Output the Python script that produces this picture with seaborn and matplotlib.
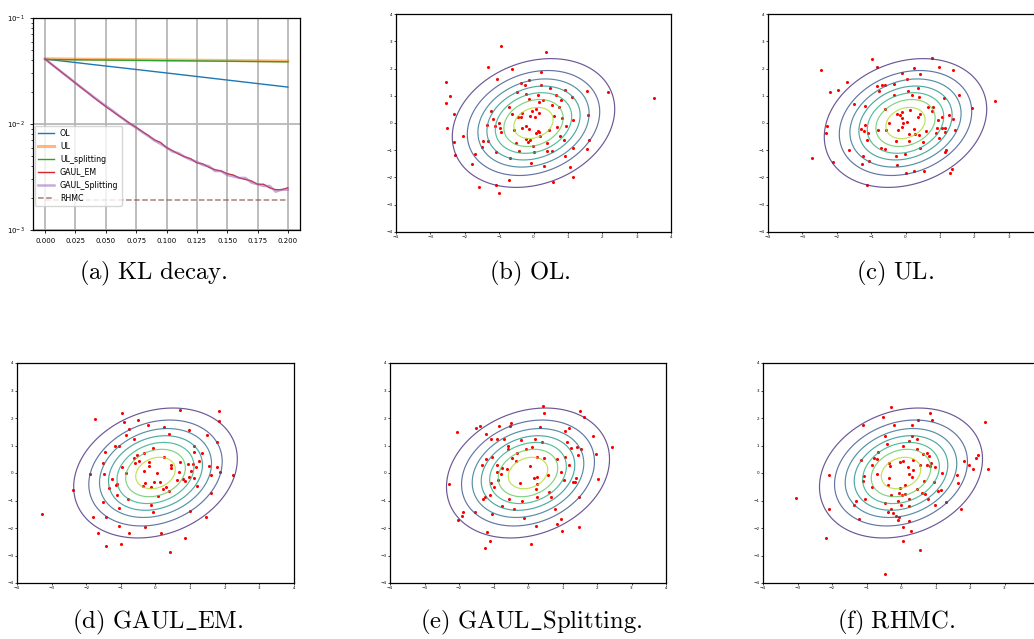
import numpy as np
import pandas as pd
import matplotlib
matplotlib.use("Agg")
import matplotlib.pyplot as plt
import seaborn as sns

plt.rcParams["mathtext.fontset"] = "cm"

# ---------------- KL decay data ----------------
T_COARSE = np.linspace(0.0, 0.2, 11)
T_FINE = np.linspace(0.0, 0.2, 41)

OL_KL = [0.0410, 0.0386, 0.0363, 0.0342, 0.0322, 0.0303, 0.0285, 0.0268, 0.0252, 0.0237, 0.0223]
UL_KL = [0.0412, 0.0410, 0.0408, 0.0406, 0.0404, 0.0402, 0.0400, 0.0398, 0.0396, 0.0394, 0.0392]
UL_SPLIT_KL = [0.0406, 0.0404, 0.0402, 0.0400, 0.0398, 0.0396, 0.0394, 0.0392, 0.0390, 0.0388, 0.0386]
GAUL_EM_KL = [0.0410, 0.0368, 0.0332, 0.0299, 0.0270, 0.0243, 0.0219, 0.0198, 0.0178, 0.0161,
              0.0146, 0.0133, 0.0121, 0.0111, 0.0101, 0.0093, 0.0085, 0.0078, 0.0071, 0.0067,
              0.0060, 0.0056, 0.0052, 0.0049, 0.0047, 0.0043, 0.0042, 0.0039, 0.0037, 0.0036,
              0.0034, 0.0033, 0.0031, 0.0030, 0.0029, 0.0027, 0.0027, 0.0025, 0.0024, 0.0024, 0.0025]
GAUL_SPLIT_KL = [0.0410, 0.0369, 0.0333, 0.0300, 0.0271, 0.0244, 0.0220, 0.0199, 0.0180, 0.0163,
                 0.0148, 0.0135, 0.0122, 0.0110, 0.0100, 0.0092, 0.0084, 0.0077, 0.0070, 0.0065,
                 0.0060, 0.0055, 0.0053, 0.0049, 0.0046, 0.0044, 0.0041, 0.0040, 0.0036, 0.0036,
                 0.0033, 0.0032, 0.0031, 0.0031, 0.0028, 0.0027, 0.0026, 0.0026, 0.0023, 0.0024, 0.0024]
RHMC_KL = 0.0019

# ---------------- target Gaussian ----------------
TARGET_MEAN = [0.0, 0.0]
TARGET_COV = [[1.35, 0.29], [0.29, 1.35]]
LEVEL_STEP_FRAC = 0.1266   # contour spacing as a fraction of the peak density
N_LEVELS = 9

# ---------------- samples ----------------
OL_X = [-0.94, 0.35, -1.33, -0.62, 0.23, -2.54, -1.05, -0.12, -0.36, -0.24, 0.23, 0.47, 1.56, 2.16, 0.92, 0.66,
        1.11, 0.14, -0.21, -0.47, -2.42, -2.54, -0.13, 0.29, 0.81, 0.17, 0.55, 0.73, -0.70, 0.06, -0.05, -1.23,
        0.15, -0.63, -2.30, -0.33, -0.46, -0.36, -0.10, 0.03, 0.61, -1.17, 0.82, 1.14, 1.58, -0.99, -1.35, -1.11,
        -0.97, -0.22, -0.33, -0.14, -2.52, 0.67, 0.94, -0.94, -0.57, 0.13, 0.46, 0.16, 0.08, -2.04, 0.20, 0.77,
        -0.21, -0.10, 0.89, -0.50, -0.15, 0.40, 1.60, -2.30, -1.47, -1.31, -1.50, -0.02, 1.16, 1.57, -0.43, 0.01,
        0.39, 0.55, -1.10, -1.69, -2.27, 0.92, -0.69, -0.06, -1.78, 0.31, 1.05, 1.15, -0.70, 0.57, -1.09, -1.59,
        -1.00, 3.50]
OL_Y = [2.82, 2.59, 2.06, 2.00, 1.88, 1.50, 1.62, 1.56, 1.46, 1.38, 1.41, 1.29, 1.17, 1.15, 1.21, 1.04,
        0.96, 1.01, 1.06, 1.13, 0.99, 0.74, 0.87, 0.84, 0.84, 0.76, 0.65, 0.60, 0.59, 0.52, 0.45, 0.44,
        0.35, 0.34, 0.34, 0.37, 0.23, 0.23, 0.26, 0.21, 0.26, 0.16, 0.17, 0.11, 0.29, 0.00, -0.09, -0.11,
        -0.18, -0.11, -0.18, -0.22, -0.17, -0.15, -0.11, -0.32, -0.26, -0.28, -0.27, -0.33, -0.38, -0.46, -0.48, -0.46,
        -0.57, -0.63, -0.61, -0.72, -0.70, -0.72, -0.62, -0.71, -0.67, -0.67, -0.87, -0.83, -0.90, -0.95, -1.01, -1.06,
        -1.01, -1.01, -1.06, -1.12, -1.16, -1.21, -1.28, -1.46, -1.52, -1.56, -1.61, -1.99, -2.10, -2.17, -2.28, -2.35,
        -2.57, 0.93]

UL_X = [-0.97, 0.78, -2.47, -0.83, 0.25, 0.97, 1.38, -0.11, 0.41, 0.03, -1.71, -0.82, -0.67, -0.59, -0.34, -1.96,
        -2.20, -0.76, 0.06, 0.36, -0.34, 0.18, 0.38, 1.57, 1.11, -1.51, -1.18, -0.59, 0.64, 0.81, 1.93, 2.61,
        -0.09, 0.13, 0.78, -0.24, -0.15, 0.42, -0.11, 0.35, 1.06, 1.27, 0.94, 1.37, -0.48, -0.08, 0.05, -2.28,
        -1.19, -0.10, 1.05, 1.14, -1.29, -1.21, -0.80, -0.56, -0.22, 0.25, 0.59, 0.92, 1.14, 1.44, -2.31, -1.08,
        0.11, 0.27, 0.38, 0.89, -1.12, 0.97, 0.09, -0.28, 0.52, -0.72, -0.59, 0.43, -1.64, 1.19, 1.14, -0.02,
        -0.29, -1.23, -1.06, -2.12, -1.27, -0.24, -2.73, 1.35, 0.25, 0.55, 0.02, 1.28, -1.12]
UL_Y = [2.34, 2.40, 1.96, 2.06, 2.02, 2.07, 1.93, 1.85, 1.79, 1.63, 1.49, 1.34, 1.38, 1.39, 1.44, 1.21,
        1.13, 1.18, 1.17, 1.28, 1.02, 1.04, 0.96, 1.02, 0.93, 0.71, 0.61, 0.51, 0.60, 0.60, 0.55, 0.82,
        0.41, 0.46, 0.43, 0.34, 0.30, 0.32, 0.20, 0.23, 0.23, 0.29, 0.10, 0.15, -0.01, -0.01, 0.05, -0.11,
        -0.07, -0.13, -0.17, -0.17, -0.23, -0.28, -0.24, -0.26, -0.26, -0.22, -0.28, -0.20, -0.32, -0.26, -0.38, -0.38,
        -0.40, -0.41, -0.43, -0.37, -0.61, -0.56, -0.66, -0.67, -0.71, -0.90, -0.95, -0.90, -0.99, -0.98, -1.05, -1.12,
        -1.22, -1.22, -1.39, -1.44, -1.50, -1.54, -1.27, -1.67, -1.77, -1.76, -1.83, -1.83, -2.29]

GAUL_EM_X = [0.71, 1.83, -0.98, -1.74, 1.83, -0.51, -0.90, -0.22, 0.25, -0.77, 0.98, -0.86, 0.39, 1.48, -0.63, 1.79,
             -1.18, -1.05, 1.12, -1.47, -0.06, -0.34, 1.11, -0.63, -0.54, 0.24, 1.34, 1.25, 0.71, -0.18, -1.53, -0.58,
             -0.49, 1.07, 0.44, 0.94, -0.19, -0.97, 0.46, 1.16, 1.55, 1.77, -0.34, -1.90, -0.86, 0.03, 0.69, 1.85,
             -1.49, 0.96, 1.02, 1.61, 1.12, 2.23, -1.25, -1.12, -1.13, -0.29, -0.05, 0.12, 0.63, 0.79, 0.85, -1.34,
             -0.35, -0.14, 0.29, 0.23, 1.20, -2.39, 0.38, 1.59, -1.12, 0.08, -0.80, -1.52, -0.14, -1.05, 1.01, -0.06,
             -3.29, -1.81, -1.43, 1.45, -1.06, -0.29, -1.67, -0.76, 0.16, 0.84, -1.00, -1.43, 0.42]
GAUL_EM_Y = [2.30, 2.24, 2.20, 1.97, 1.90, 1.91, 1.84, 1.76, 1.69, 1.59, 1.57, 1.40, 1.42, 1.40, 1.22, 1.13,
             1.00, 0.98, 0.98, 0.77, 0.92, 0.72, 0.77, 0.55, 0.66, 0.60, 0.73, 0.44, 0.41, 0.40, 0.38, 0.38,
             0.45, 0.33, 0.29, 0.33, 0.26, 0.21, 0.19, 0.23, 0.26, 0.21, 0.09, -0.04, 0.00, 0.01, 0.04, 0.04,
             -0.05, -0.13, 0.09, -0.06, -0.18, -0.09, -0.21, -0.39, -0.45, -0.38, -0.32, -0.34, -0.24, -0.22, -0.28, -0.53,
             -0.47, -0.51, -0.50, -0.57, -0.46, -0.61, -0.67, -0.72, -0.80, -0.85, -0.96, -1.07, -1.17, -1.28, -1.37, -1.42,
             -1.48, -1.59, -1.59, -1.60, -1.92, -1.98, -2.18, -2.19, -2.19, -2.35, -2.57, -2.66, -2.89]

GAUL_SPLIT_X = [0.44, 1.50, 0.46, 1.63, -0.48, -1.40, -1.52, -0.85, -0.52, 0.36, 1.18, -2.07, -1.22, 1.08, 1.87, -1.06,
                -0.71, -0.91, -0.20, 0.20, 0.41, 1.14, -0.59, 0.13, 1.43, 2.44, -0.59, -0.07, 1.24, 1.53, -0.32, 1.97,
                -1.22, -1.04, -0.46, 0.25, 0.46, 1.06, 1.45, 0.83, -0.35, -1.33, -0.91, 1.18, 0.05, -0.75, -0.62, -0.90,
                -0.77, 0.96, -2.28, 0.17, 0.25, 0.59, 2.02, 1.40, 1.35, 1.29, -0.88, 1.03, -1.08, -0.24, 0.27, -1.00,
                0.23, 1.49, -1.26, -1.30, -1.09, 0.61, 0.66, 0.27, -0.55, -0.16, -0.75, -0.42, 0.78, -1.53, -1.89, -1.03,
                -0.13, 0.95, -2.04, -1.92, 0.85, 0.24, 1.47, 0.99, -1.19, -1.09, 0.08, -1.24]
GAUL_SPLIT_Y = [2.44, 2.27, 2.19, 2.04, 1.82, 1.70, 1.63, 1.71, 1.70, 1.67, 1.65, 1.48, 1.42, 1.53, 1.34, 1.23,
                1.23, 1.22, 1.19, 1.22, 1.12, 1.12, 0.98, 0.96, 0.94, 0.95, 0.89, 0.86, 0.90, 0.86, 0.74, 0.68,
                0.51, 0.57, 0.55, 0.60, 0.55, 0.60, 0.64, 0.50, 0.43, 0.30, 0.30, 0.30, 0.27, 0.17, 0.15, 0.04,
                -0.02, 0.05, -0.40, -0.17, -0.15, -0.07, -0.23, -0.19, -0.32, -0.34, -0.27, -0.26, -0.35, -0.36, -0.41, -0.50,
                -0.57, -0.86, -0.88, -0.94, -0.80, -0.69, -0.86, -0.89, -0.95, -1.00, -1.19, -1.30, -1.30, -1.42, -1.43, -1.50,
                -1.65, -1.67, -1.71, -1.57, -1.84, -1.92, -1.96, -2.12, -2.14, -2.47, -2.58, -2.71]

RHMC_X = [-0.29, 0.84, -0.52, 0.49, 0.89, 2.44, -1.10, -0.19, 0.31, -0.47, 0.32, 0.45, 0.23, -0.41, 0.07, 0.45,
          -0.67, 0.76, 0.65, 0.80, -1.16, -0.78, -0.71, 1.83, 2.23, 2.17, -0.36, -0.02, 0.07, 0.36, -0.84, -0.33,
          0.55, 0.74, 0.83, 0.88, 0.99, 0.21, 0.35, 1.98, 2.09, 2.51, -0.69, 0.22, 1.19, -2.10, -1.06, -0.35,
          0.31, 1.61, -1.09, 0.68, 0.95, 1.66, -0.38, 0.13, 0.45, -0.84, -0.02, 1.07, 1.17, -0.06, 0.61, 0.70,
          -0.28, 0.03, 0.11, -0.09, -1.03, 0.79, 0.22, 0.01, 0.23, 0.98, -1.31, -1.35, -0.45, 1.30, -0.28, -0.38,
          -0.24, -0.15, -0.05, -0.08, 0.22, -2.09, 1.75, -1.23, -3.05, 0.06, 0.28, -2.17, 0.05, 0.56, -0.45]
RHMC_Y = [2.40, 2.20, 2.02, 1.93, 1.91, 1.87, 1.74, 1.73, 1.76, 1.34, 1.36, 1.23, 1.16, 1.05, 0.98, 0.86,
          0.78, 0.74, 0.69, 0.62, 0.47, 0.54, 0.50, 0.44, 0.64, 0.55, 0.38, 0.41, 0.45, 0.46, 0.29, 0.24,
          0.30, 0.30, 0.26, 0.35, 0.22, 0.21, 0.12, 0.30, 0.13, 0.16, -0.04, -0.02, -0.01, -0.09, -0.12, -0.17,
          -0.15, -0.09, -0.30, -0.28, -0.33, -0.38, -0.45, -0.44, -0.57, -0.51, -0.53, -0.64, -0.60, -0.72, -0.74, -0.77,
          -0.80, -0.80, -0.77, -1.01, -0.95, -0.94, -0.95, -1.16, -1.19, -1.16, -1.00, -1.18, -1.08, -1.06, -1.31, -1.43,
          -1.45, -1.57, -1.59, -1.70, -1.74, -1.31, -1.30, -1.68, -0.91, -1.96, -2.12, -2.35, -2.49, -2.81, -3.68]

SCATTER_PANELS = [
    ("OL", OL_X, OL_Y),
    ("UL", UL_X, UL_Y),
    ("GAUL_EM", GAUL_EM_X, GAUL_EM_Y),
    ("GAUL_Splitting", GAUL_SPLIT_X, GAUL_SPLIT_Y),
    ("RHMC", RHMC_X, RHMC_Y),
]
SCATTER_TICKS = [-4, -3, -2, -1, 0, 1, 2, 3, 4]
CAPTIONS = [r"$\mathrm{(a)\ KL\ decay.}$", r"$\mathrm{(b)\ OL.}$", r"$\mathrm{(c)\ UL.}$",
            r"$\mathrm{(d)\ GAUL\_EM.}$", r"$\mathrm{(e)\ GAUL\_Splitting.}$", r"$\mathrm{(f)\ RHMC.}$"]

# ---------------- figure ----------------
W, H = 1034, 639
fig = plt.figure(figsize=(W / 100, H / 100), dpi=100)


def px_axes(left, top, right, bottom):
    return fig.add_axes([left / W, 1 - bottom / H, (right - left) / W, (bottom - top) / H])


# KL panel
ax = px_axes(33, 18, 300, 230)
sns.lineplot(x=T_COARSE, y=OL_KL, ax=ax, color="tab:blue", lw=1.0, label="OL")
sns.lineplot(x=T_COARSE, y=UL_KL, ax=ax, color="tab:orange", lw=2.2, alpha=0.55, label="UL")
sns.lineplot(x=T_COARSE, y=UL_SPLIT_KL, ax=ax, color="tab:green", lw=1.0, label="UL_splitting")
sns.lineplot(x=T_FINE, y=GAUL_EM_KL, ax=ax, color="tab:red", lw=1.0, label="GAUL_EM")
sns.lineplot(x=T_FINE, y=GAUL_SPLIT_KL, ax=ax, color="tab:purple", lw=1.8, alpha=0.55, label="GAUL_Splitting")
sns.lineplot(x=[T_FINE[0], T_FINE[-1]], y=[RHMC_KL, RHMC_KL], ax=ax, color="tab:brown",
             lw=1.1, alpha=0.75, linestyle="--", label="RHMC")
ax.set_yscale("log")
ax.set_ylim(1e-3, 1e-1)
ax.set_xlim(-0.01, 0.21)
ax.set_xticks(np.linspace(0, 0.2, 9))
ax.set_xticklabels([f"{v:.3f}" for v in np.linspace(0, 0.2, 9)])
ax.grid(True, which="major", color="#b8b8b8", lw=1.3)
ax.tick_params(labelsize=5, length=2.5, width=0.6)
ax.tick_params(which="minor", length=1.5, width=0.5)
ax.set_xlabel("")
ax.set_ylabel("")
for s in ax.spines.values():
    s.set_linewidth(0.9)
ax.legend(loc="upper left", bbox_to_anchor=(0.0, 0.5), fontsize=5.7, borderaxespad=0.2,
          handlelength=2.0, labelspacing=0.5, framealpha=0.8)

# density grid for contours
gx = np.linspace(-4, 4, 300)
GX, GY = np.meshgrid(gx, gx)
cov = np.array(TARGET_COV)
inv = np.linalg.inv(cov)
dx = GX - TARGET_MEAN[0]
dy = GY - TARGET_MEAN[1]
q = inv[0, 0] * dx ** 2 + 2 * inv[0, 1] * dx * dy + inv[1, 1] * dy ** 2
Z = np.exp(-0.5 * q) / (2 * np.pi * np.sqrt(np.linalg.det(cov)))
fmax = 1 / (2 * np.pi * np.sqrt(np.linalg.det(cov)))
levels = fmax * LEVEL_STEP_FRAC * np.arange(N_LEVELS)

boxes = [
    (396, 14, 671, 232),
    (768, 14, 1043, 232),
    (17, 363, 294, 583),
    (390, 363, 666, 583),
    (763, 363, 1039, 583),
]
for (name, xs, ys), box in zip(SCATTER_PANELS, boxes):
    a = px_axes(*box)
    a.contour(GX, GY, Z, levels=levels, cmap="viridis", linewidths=0.85, alpha=0.8)
    df = pd.DataFrame({"x": xs, "y": ys})
    sns.scatterplot(data=df, x="x", y="y", ax=a, color="red", s=5, linewidth=0)
    a.set_xlim(-4, 4)
    a.set_ylim(-4, 4)
    a.set_xticks(SCATTER_TICKS)
    a.set_yticks(SCATTER_TICKS)
    xlabels = [f"{v}".replace("-", "\u2212") for v in SCATTER_TICKS]
    if box[2] > W:
        # the right-most tick sits beyond the figure edge, as in the reference
        xlabels[-1] = ""
    a.set_xticklabels(xlabels)
    a.tick_params(labelsize=3, length=1.5, width=0.5, pad=1)
    a.set_xlabel("")
    a.set_ylabel("")
    for s in a.spines.values():
        s.set_linewidth(0.9)

# captions
cap_pos = [(153, 273), (530, 273), (895, 273), (158, 622), (531, 622), (896, 622)]
for txt, (cx, cy) in zip(CAPTIONS, cap_pos):
    fig.text(cx / W, 1 - cy / H, txt, ha="center", va="center", fontsize=17.8)

fig.savefig("out.png", dpi=100)
